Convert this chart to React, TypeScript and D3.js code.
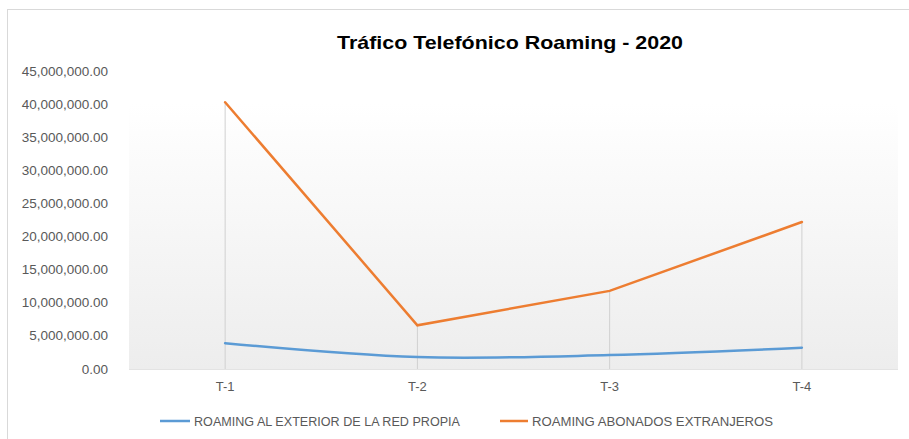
import React from "react";
import * as d3 from "d3";

const categories = ["T-1", "T-2", "T-3", "T-4"];
const seriesNames = ["ROAMING AL EXTERIOR DE LA RED PROPIA", "ROAMING ABONADOS EXTRANJEROS"];
const exteriorValues = [3900000, 1800000, 2100000, 3200000];
const extranjerosValues = [40300000, 6600000, 11800000, 22200000];
const yTicks = [0, 5000000, 10000000, 15000000, 20000000, 25000000, 30000000, 35000000, 40000000, 45000000];
const title = "Tráfico Telefónico Roaming - 2020";

const W = 909;
const H = 439;
const plot = { left: 129, right: 898, top: 103, bottom: 369 };
const BLUE = "#5B9BD5";
const ORANGE = "#ED7D31";
const TEXT = "#595959";
const FONT = "'Liberation Sans', Arial, sans-serif";

export default function App() {
  const x = d3.scaleBand<string>().domain(categories).range([plot.left, plot.right]);
  const cx = (c: string) => (x(c) ?? 0) + x.bandwidth() / 2;
  const y = d3.scaleLinear().domain([0, 45000000]).range([plot.bottom, plot.bottom - 9 * 33.1]);
  const fmt = d3.format(",.2f");

  const blueLine = d3
    .line<number>()
    .x((_, i) => cx(categories[i]))
    .y((v) => y(v))
    .curve(d3.curveCatmullRom.alpha(0.5));
  const orangeLine = d3
    .line<number>()
    .x((_, i) => cx(categories[i]))
    .y((v) => y(v));

  return (
    <svg width={W} height={H} style={{ position: "absolute", left: 0, top: 0, background: "#fff" }}>
      <defs>
        <linearGradient id="plotbg" x1="0" y1="0" x2="0" y2="1">
          <stop offset="0%" stopColor="#ffffff" />
          <stop offset="100%" stopColor="#ededed" />
        </linearGradient>
      </defs>
      <rect x={7.5} y={9.5} width={W} height={H} fill="#fff" stroke="#d9d9d9" strokeWidth={1} />
      <text
        x={510}
        y={49}
        textAnchor="middle"
        fontFamily={FONT}
        fontWeight="bold"
        fontSize={19}
        fill="#000"
        textLength={346}
        lengthAdjust="spacingAndGlyphs"
      >
        {title}
      </text>
      <rect
        x={plot.left}
        y={plot.top}
        width={plot.right - plot.left}
        height={plot.bottom - plot.top}
        fill="url(#plotbg)"
      />
      <line x1={plot.left} x2={plot.right} y1={plot.bottom + 0.5} y2={plot.bottom + 0.5} stroke="#e3e3e3" />
      {categories.map((c, i) => (
        <line
          key={c}
          x1={cx(c)}
          x2={cx(c)}
          y1={y(Math.max(exteriorValues[i], extranjerosValues[i]))}
          y2={plot.bottom}
          stroke="#d0d0d0"
          strokeWidth={1}
        />
      ))}
      {yTicks.map((t) => (
        <text
          key={t}
          x={108}
          y={y(t) + 4.5}
          textAnchor="end"
          fontFamily={FONT}
          fontSize={13.5}
          fill={TEXT}
        >
          {fmt(t)}
        </text>
      ))}
      {categories.map((c) => (
        <text key={c} x={cx(c)} y={391} textAnchor="middle" fontFamily={FONT} fontSize={13} fill={TEXT}>
          {c}
        </text>
      ))}
      <path d={blueLine(exteriorValues) ?? ""} fill="none" stroke={BLUE} strokeWidth={2.5} strokeLinecap="round" />
      <path d={orangeLine(extranjerosValues) ?? ""} fill="none" stroke={ORANGE} strokeWidth={2.5} strokeLinecap="round" />
      <line x1={160} x2={190} y1={421} y2={421} stroke={BLUE} strokeWidth={2.5} />
      <text
        x={194}
        y={426}
        fontFamily={FONT}
        fontSize={12.5}
        fill={TEXT}
        textLength={266}
        lengthAdjust="spacingAndGlyphs"
      >
        {seriesNames[0]}
      </text>
      <line x1={500} x2={528} y1={421} y2={421} stroke={ORANGE} strokeWidth={2.5} />
      <text
        x={532}
        y={426}
        fontFamily={FONT}
        fontSize={12.5}
        fill={TEXT}
        textLength={241}
        lengthAdjust="spacingAndGlyphs"
      >
        {seriesNames[1]}
      </text>
    </svg>
  );
}
